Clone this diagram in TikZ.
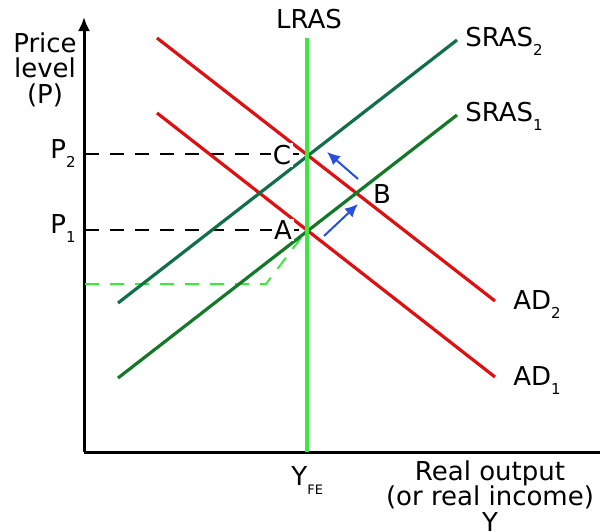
\documentclass[tikz,border=0pt]{standalone}
\usepackage{fontspec}
\setmainfont{DejaVu Sans}
\usetikzlibrary{arrows.meta, positioning}
\definecolor{cRed}{RGB}{221,17,17}
\definecolor{cSrasTwo}{RGB}{18,112,72}
\definecolor{cSrasOne}{RGB}{20,120,40}
\definecolor{cLime}{RGB}{60,232,60}
\definecolor{cBlue}{RGB}{40,80,220}
\newcommand{\lsub}[1]{\raisebox{-4.5pt}{\fontsize{7.5}{8}\selectfont #1}}
\newcommand{\lsubfe}[1]{\raisebox{-4.5pt}{\fontsize{6.5}{7}\selectfont #1}}
\tikzset{
	axisline/.style={line width=1.5pt, black},
	curveline/.style={line width=1.6pt},
	guideline/.style={line width=1pt, dash pattern=on 7pt off 5.5pt},
	shiftarrow/.style={-{Latex[length=6.5pt,width=6pt]}, line width=1pt, cBlue},
	lbl/.style={inner sep=0pt, font=\fontsize{13}{12.8}\selectfont},
	ptlbl/.style={lbl, fill=white, inner sep=1pt},
}
\begin{document}
\begin{tikzpicture}[x=0.5pt, y=-0.5pt]
	\useasboundingbox (0,0) rectangle (600,531);
	% axes
	\coordinate (origin) at (84,452);
	\coordinate (ytop) at (84,17);
	\coordinate (xend) at (600,452);
	\draw[axisline, -{Latex[length=7pt,width=6pt]}] (origin) -- (ytop);
	\draw[axisline] (origin) -- (xend);
	% points
	\coordinate (A) at (307,230);
	\coordinate (B) at (357,193);
	\coordinate (C) at (307,154);
	\coordinate (p1) at (85,230);
	\coordinate (p2) at (85,154);
	\coordinate (gbase) at (85,284);
	\coordinate (gbend) at (266,284);
	% guides
	\draw[guideline] (p2) -- (C);
	\draw[guideline] (p1) -- (A);
	\draw[guideline, cLime] (gbase) -- (gbend) -- (A);
	% curves
	\coordinate (lrasT) at (307,38);
	\coordinate (lrasB) at (307,452);
	\coordinate (s2a) at (118,303);
	\coordinate (s2b) at (457,40);
	\coordinate (s1a) at (118,378);
	\coordinate (s1b) at (457,115);
	\coordinate (d2a) at (157,38);
	\coordinate (d2b) at (495,301);
	\coordinate (d1a) at (157,113);
	\coordinate (d1b) at (495,377);
	\draw[curveline, cRed] (d2a) -- (d2b);
	\draw[curveline, cRed] (d1a) -- (d1b);
	\draw[curveline, cSrasTwo] (s2a) -- (s2b);
	\draw[curveline, cSrasOne] (s1a) -- (s1b);
	\draw[line width=2pt, cLime] (lrasB) -- (lrasT);
	% shifts
	\coordinate (m1a) at (324,236);
	\coordinate (m1b) at (358,204);
	\coordinate (m2a) at (358,179);
	\coordinate (m2b) at (327,152);
	\draw[shiftarrow] (m1a) -- (m1b);
	\draw[shiftarrow] (m2a) -- (m2b);
	% labels
	\node[lbl, anchor=base] (lras) at (309,28) {LRAS};
	\node[lbl, anchor=base west] (sras2) at (465,46) {SRAS\lsub{2}};
	\node[lbl, anchor=base west] (sras1) at (465,121) {SRAS\lsub{1}};
	\node[lbl, anchor=base west] (ad2) at (513,309) {AD\lsub{2}};
	\node[lbl, anchor=base west] (ad1) at (513,385) {AD\lsub{1}};
	\node[lbl, anchor=base east] (lp2) at (76,158) {P\lsub{2}};
	\node[lbl, anchor=base east] (lp1) at (76,233) {P\lsub{1}};
	\node[ptlbl] (lC) at (282,155) {C};
	\node[ptlbl] (lA) at (283,230) {A};
	\node[lbl] (lB) at (382,194) {B};
	\node[lbl, anchor=base west] (yfe) at (291,485) {Y\lsubfe{FE}};
	\node[lbl, anchor=north, align=center] (ylab) at (45,32) {Price\\level\\(P)};
	\node[lbl, anchor=north, align=center] (xlab) at (490,460) {Real output\\(or real income)\\Y};
\end{tikzpicture}
\end{document}
